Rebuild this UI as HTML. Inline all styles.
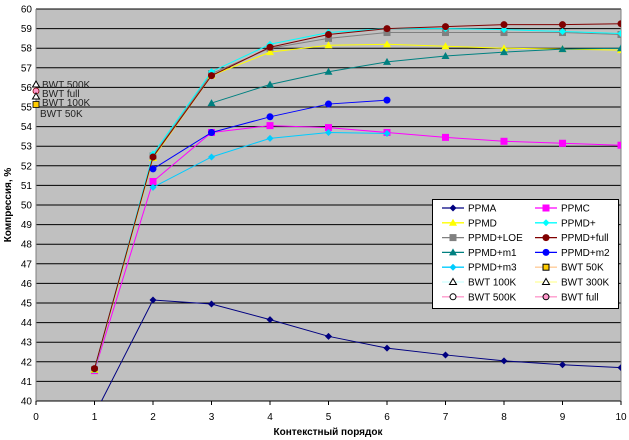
<!DOCTYPE html>
<html><head><meta charset="utf-8"><style>
html,body{margin:0;padding:0;background:#fff;width:629px;height:440px;overflow:hidden}
svg{display:block;font-family:"Liberation Sans",Arial,sans-serif}
</style></head><body>
<svg id="c" width="629" height="440" xmlns="http://www.w3.org/2000/svg"></svg>
<script>
var X0=36,X1=621,Y0=401,Y1=9;
function px(x){return X0+x*(X1-X0)/10}
function py(y){return Y0-(y-40)*(Y0-Y1)/20}
var s='';
s+='<rect x="'+X0+'" y="'+Y1+'" width="'+(X1-X0)+'" height="'+(Y0-Y1)+'" fill="#c0c0c0"/>';
for(var v=40;v<=60;v++){var y=py(v);s+='<line x1="'+X0+'" x2="'+X1+'" y1="'+y+'" y2="'+y+'" stroke="#000" stroke-width="1"/>';
s+='<text x="'+(X0-4)+'" y="'+(y+3.5)+'" font-size="10" text-anchor="end">'+v+'</text>';}
s+='<line x1="'+X0+'" x2="'+X0+'" y1="'+Y1+'" y2="'+Y0+'" stroke="#808080"/>';
s+='<line x1="'+X1+'" x2="'+X1+'" y1="'+Y1+'" y2="'+Y0+'" stroke="#808080"/>';
for(var i=0;i<=10;i++){var x=px(i);s+='<line x1="'+x+'" x2="'+x+'" y1="'+Y0+'" y2="'+(Y0+4)+'" stroke="#000"/>';
s+='<text x="'+x+'" y="'+(Y0+19)+'" font-size="10" text-anchor="middle">'+i+'</text>';}
s+='<text x="328" y="435" font-size="10" font-weight="bold" text-anchor="middle">Контекстный порядок</text>';
s+='<text transform="translate(11,205) rotate(-90)" font-size="10" font-weight="bold" text-anchor="middle">Компрессия, %</text>';
s+='<defs><clipPath id="cp"><rect x="'+X0+'" y="'+Y1+'" width="'+(X1-X0)+'" height="'+(Y0-Y1)+'"/></clipPath></defs>';
function mk(t,x,y,c){
 if(t=='d')return '<path d="M'+x+' '+(y-3.5)+'L'+(x+3.5)+' '+y+'L'+x+' '+(y+3.5)+'L'+(x-3.5)+' '+y+'Z" fill="'+c+'"/>';
 if(t=='s')return '<rect x="'+(x-3.5)+'" y="'+(y-3.5)+'" width="7" height="7" fill="'+c+'"/>';
 if(t=='t')return '<path d="M'+x+' '+(y-4)+'L'+(x+4)+' '+(y+3)+'L'+(x-4)+' '+(y+3)+'Z" fill="'+c+'"/>';
 if(t=='c')return '<circle cx="'+x+'" cy="'+y+'" r="3.5" fill="'+c+'"/>';
 return '';
}
var S=[
['#000080','d',[[1,39.3],[2,45.15],[3,44.95],[4,44.15],[5,43.3],[6,42.7],[7,42.35],[8,42.05],[9,41.85],[10,41.7]]],
['#ff00ff','s',[[1,41.55],[2,51.2],[3,53.7],[4,54.05],[5,53.95],[6,53.7],[7,53.45],[8,53.25],[9,53.15],[10,53.05]]],
['#808080','s',[[1,41.6],[2,52.5],[3,56.7],[4,58.0],[5,58.5],[6,58.8],[7,58.8],[8,58.8],[9,58.8],[10,58.7]]],
['#ffff00','t',[[1,41.6],[2,52.4],[3,56.6],[4,57.8],[5,58.15],[6,58.2],[7,58.1],[8,58.0],[9,57.95],[10,57.9]]],
['#00ffff','d',[[1,41.6],[2,52.6],[3,56.8],[4,58.2],[5,58.8],[6,59.0],[7,59.0],[8,58.95],[9,58.85],[10,58.75]]],
['#800000','c',[[1,41.65],[2,52.45],[3,56.6],[4,58.05],[5,58.7],[6,59.0],[7,59.1],[8,59.2],[9,59.2],[10,59.25]]],
['#008080','t',[[3,55.2],[4,56.15],[5,56.8],[6,57.3],[7,57.6],[8,57.8],[9,57.95],[10,58.0]]],
['#0000ff','c',[[2,51.84],[3,53.7],[4,54.5],[5,55.15],[6,55.35]]],
['#00ccff','d',[[2,50.9],[3,52.45],[4,53.4],[5,53.7],[6,53.65]]]
];
s+='<g clip-path="url(#cp)">';
S.forEach(function(r){var p=r[2].map(function(q){return px(q[0])+','+py(q[1])}).join(' ');
 s+='<polyline points="'+p+'" fill="none" stroke="'+r[0]+'" stroke-width="1"/>';
 r[2].forEach(function(q){s+=mk(r[1],px(q[0]),py(q[1]),r[0])});});
s+='</g>';
// BWT markers
s+='<path d="M36 81L39.5 87L32.5 87Z" fill="#fff" stroke="#000" stroke-width="1"/>';
s+='<circle cx="36" cy="91" r="3" fill="#ff99cc" stroke="#800000" stroke-width="0.8"/>';
s+='<path d="M36 93L39.5 99L32.5 99Z" fill="#fff" stroke="#000"/>';
s+='<rect x="33" y="101.5" width="6" height="6" fill="#ffcc00" stroke="#000" stroke-width="0.8"/>';
s+='<text x="42" y="88" font-size="10" fill="#222">BWT 500K</text>';
s+='<text x="42" y="97" font-size="10" fill="#222">BWT full</text>';
s+='<text x="42" y="106" font-size="10" fill="#222">BWT 100K</text>';
s+='<text x="40" y="117" font-size="10" fill="#222">BWT 50K</text>';
// legend
s+='<rect x="432.5" y="199.5" width="186" height="109" fill="#fff" stroke="#000"/>';
var L=[['PPMA','#000080','d'],['PPMC','#ff00ff','s'],['PPMD','#ffff00','t'],['PPMD+','#00ffff','d'],['PPMD+LOE','#808080','s'],['PPMD+full','#800000','c'],['PPMD+m1','#008080','t'],['PPMD+m2','#0000ff','c'],['PPMD+m3','#00ccff','d'],['BWT 50K','#ffcc99','bs'],['BWT 100K','#ccffff','bt'],['BWT 300K','#ffff99','bt'],['BWT 500K','#ff99cc','bc'],['BWT full','#ff99cc','bc']];
L.forEach(function(l,i){var col=i%2,row=Math.floor(i/2);var x=442+col*93,y=208+row*14.8;
 s+='<line x1="'+x+'" x2="'+(x+22)+'" y1="'+y+'" y2="'+y+'" stroke="'+l[1]+'" stroke-width="1.3"/>';
 if(l[2][0]=='b'){var cx=x+11;
  if(l[2]=='bs')s+='<rect x="'+(cx-3)+'" y="'+(y-3)+'" width="6" height="6" fill="#ffcc00" stroke="#000"/>';
  if(l[2]=='bt')s+='<path d="M'+cx+' '+(y-3.5)+'L'+(cx+3.5)+' '+(y+2.5)+'L'+(cx-3.5)+' '+(y+2.5)+'Z" fill="#fff" stroke="#000"/>';
  if(l[2]=='bc')s+='<circle cx="'+cx+'" cy="'+y+'" r="3" fill="'+(i==13?'#ff99cc':'#fff')+'" stroke="#000"/>';
 } else s+=mk(l[2],x+11,y,l[1]);
 s+='<text x="'+(x+26)+'" y="'+(y+3.5)+'" font-size="10">'+l[0]+'</text>';});
document.getElementById('c').innerHTML=s;
</script>
</body></html>
